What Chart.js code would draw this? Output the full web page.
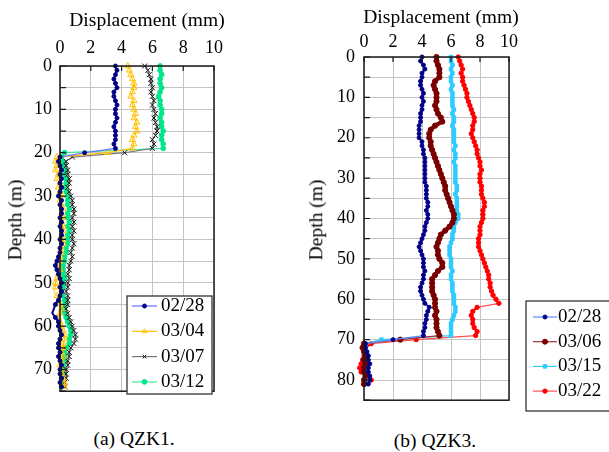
<!DOCTYPE html>
<html>
<head>
<meta charset="utf-8">
<script src="https://cdn.jsdelivr.net/npm/chart.js@4.4.1/dist/chart.umd.min.js"></script>
<style>
  body { margin: 0; background: #fff; width: 609px; height: 452px; overflow: hidden; position: relative;
         font-family: "Liberation Serif", "DejaVu Serif", serif; color: #000; }
  .box { position: absolute; }
  .txt { position: absolute; white-space: nowrap; line-height: 1; transform: translate(-50%, -50%); }
  .rot { transform: translate(-50%, -50%) rotate(-90deg); }
</style>
</head>
<body>
<div class="box" style="left:0;top:0;width:230px;height:410px"><canvas id="qzk1"></canvas></div>
<div class="box" style="left:300px;top:0;width:309px;height:420px"><canvas id="qzk3"></canvas></div>

<div class="txt" style="left:147px;top:20px;font-size:19.5px">Displacement (mm)</div>
<div class="txt rot" style="left:15px;top:220px;font-size:19.5px">Depth (m)</div>
<div class="txt" style="left:134px;top:439px;font-size:19.5px">(a) QZK1.</div>

<div class="txt" style="left:441px;top:17px;font-size:19.5px">Displacement (mm)</div>
<div class="txt rot" style="left:316px;top:220px;font-size:19.5px">Depth (m)</div>
<div class="txt" style="left:435px;top:441px;font-size:19.5px">(b) QZK3.</div>

<script>
// QZK1 - depth (m) and displacement (mm) per survey date
const depthA = [0,1,2,3,4,5,6,7,8,9,10,11,12,13,14,15,16,17,18,19,20,21,22,23,24,25,26,27,28,29,
  30,31,32,33,34,35,36,37,38,39,40,41,42,43,44,45,46,47,48,49,50,51,52,53,54,55,56,57,58,59,
  60,61,62,63,64,65,66,67,68,69,70,71,72,73,74];

const a0228 = [3.6,3.7,3.6,3.5,3.6,3.7,3.5,3.5,3.6,3.7, 3.6,3.6,3.7,3.6,3.5,3.6,3.6,3.6,3.5,3.6,
  1.6, 0.0,-0.1,0.0,0.1,0.0,0.1,0.0,0.1,0.0,
  -0.1,0.1,0.0,0.1,0.1,0.0,0.1,0.0,0.1,0.1, 0.0,0.1,0.0,0.0,-0.1,-0.2,-0.3,-0.2,-0.1,0.0,
  0.1,0.0,0.1,0.0,-0.1,-0.3,-0.4,-0.5,-0.3,-0.1, -0.1,0.0,0.1,0.0,-0.1,-0.1,0.0,-0.1,0.0,0.1,
  0.0,0.0,0.1,0.0,0.1];
const a0304 = [4.4,4.5,4.6,4.7,4.8,4.8,4.7,4.6,4.8,4.7, 4.8,4.9,4.8,5.0,4.9,5.0,4.8,4.7,4.8,4.7,
  3.1, -0.2,-0.3,-0.2,-0.3,-0.1,-0.2,0.0,-0.1,0.0,
  0.1,0.0,0.1,0.2,0.1,0.2,0.1,0.2,0.2,0.1, 0.2,0.2,0.1,0.1,0.0,0.0,-0.1,0.0,-0.1,-0.2,
  -0.3,-0.3,-0.4,-0.2,-0.1,0.0,0.1,0.0,-0.1,0.0, 0.1,0.2,0.3,0.3,0.2,0.2,0.1,0.2,0.1,0.0,
  0.1,0.1,0.2,0.3,0.3];
const a0307 = [5.5,5.7,5.8,5.9,5.9,6.0,5.9,6.0,6.1,6.0, 6.1,6.2,6.1,6.2,6.3,6.3,6.2,6.0,6.1,6.0,
  4.2, 0.8,0.4,0.4,0.5,0.5,0.6,0.6,0.5,0.6,
  0.7,0.8,0.8,0.9,0.9,0.8,0.9,0.8,0.9,0.8, 0.8,0.9,0.8,0.7,0.8,0.7,0.6,0.6,0.5,0.6,
  0.5,0.5,0.4,0.5,0.5,0.5,0.4,0.5,0.6,0.7, 0.8,0.9,1.0,1.0,0.9,0.7,0.6,0.6,0.5,0.5,
  0.4,0.4,0.4,0.3,0.3];
const a0312 = [6.5,6.5,6.6,6.5,6.5,6.6,6.5,6.4,6.5,6.5, 6.6,6.6,6.5,6.6,6.6,6.7,6.6,6.6,6.7,6.7,
  0.3, 0.1,0.2,0.2,0.3,0.3,0.4,0.4,0.3,0.4,
  0.5,0.5,0.5,0.6,0.5,0.5,0.6,0.5,0.6,0.5, 0.5,0.5,0.4,0.4,0.3,0.3,0.2,0.2,0.2,0.3,
  0.2,0.2,0.1,0.2,0.3,0.3,0.2,0.3,0.4,0.5, 0.6,0.7,0.7,0.6,0.6,0.4,0.3,0.3,0.3,0.2,
  0.2,0.2,0.1,0.1,0.1];

// QZK3
const depthB = [0,1,2,3,4,5,6,7,8,9,10,11,12,13,14,15,16,17,18,19,20,21,22,23,24,25,26,27,28,29,
  30,31,32,33,34,35,36,37,38,39,40,41,42,43,44,45,46,47,48,49,50,51,52,53,54,55,56,57,58,59,
  60,61,62,63,64,65,66,67,68,69,70,71,72,73,74,75,76,77,78,79,80,81];

const b0228 = [4.0,3.9,4.1,4.2,4.0,4.0,3.9,3.9,4.0,4.1, 4.0,4.1,4.0,4.0,3.9,3.9,3.9,3.8,3.8,3.8,
  3.8,4.0,4.0,4.1,4.1,4.2,4.2,4.2,4.2,4.2, 4.2,4.2,4.3,4.3,4.3,4.3,4.4,4.4,4.3,4.4,
  4.4,4.3,4.2,4.2,4.1,4.0,3.9,3.8,3.9,4.0, 4.1,4.1,4.1,4.2,4.1,4.1,4.0,3.9,3.9,4.0,
  4.1,4.2,4.5,4.4,4.3,4.3,4.2,4.2,4.1,4.1,
  2.0, 0.1,0.1,0.2,0.3,0.3,0.4,0.3,0.3,0.4,0.4,0.3];
const b0306 = [5.0,5.0,5.1,5.2,5.2,5.2,4.9,4.8,4.9,5.0, 5.0,5.0,4.9,5.0,5.1,5.3,5.4,4.9,4.6,4.5,
  4.5,4.6,4.6,4.7,4.8,4.9,5.0,5.1,5.2,5.3, 5.4,5.5,5.6,5.6,5.7,5.8,5.9,6.0,6.1,6.2,
  6.2,6.1,5.9,5.6,5.3,5.2,5.1,5.0,5.1,5.1, 5.2,5.4,5.4,5.1,4.9,4.7,4.7,4.7,4.7,4.8,
  4.9,4.9,4.9,5.0,4.9,5.0,5.0,5.0,5.1,5.2,
  2.5, 0.0,-0.1,0.0,0.1,0.0,0.1,0.0,0.0,0.1,0.0,0.0];
const b0315 = [6.0,6.0,6.1,6.0,6.1,6.0,6.0,6.1,6.0,6.1, 6.1,6.1,6.1,6.2,6.1,6.2,6.2,6.1,6.2,6.2,
  6.2,6.2,6.3,6.2,6.3,6.3,6.2,6.3,6.3,6.3, 6.3,6.3,6.4,6.4,6.3,6.4,6.4,6.4,6.4,6.5,
  6.5,6.3,6.2,6.2,6.1,6.1,6.0,5.9,5.9,5.9, 6.0,6.0,6.0,6.1,6.0,6.0,6.1,6.1,6.1,6.2,
  6.2,6.2,6.3,6.3,6.2,6.1,6.0,6.0,6.0,6.0,
  1.2, 0.1,0.1,0.2,0.2,0.1,0.2,0.1,0.2,0.1,0.2,0.1];
const b0322 = [6.5,6.6,6.7,6.8,6.7,6.8,6.8,6.9,7.0,7.1, 7.1,7.2,7.3,7.4,7.5,7.6,7.6,7.5,7.5,7.4,
  7.5,7.6,7.7,7.8,7.8,7.9,8.0,8.0,8.1,8.0, 8.0,8.0,8.1,8.1,8.1,8.2,8.3,8.3,8.2,8.2,
  8.2,8.1,8.0,8.0,8.0,7.9,7.9,7.9,8.0,8.1, 8.2,8.3,8.4,8.5,8.6,8.6,8.7,8.7,8.8,8.9,
  9.1,9.3,7.8,7.5,7.4,7.5,7.5,7.6,7.8,7.7,
  3.6, 0.5,0.1,0.1,0.0,-0.1,-0.2,-0.3,-0.2,0.3,0.5,0.0];

const serif = '"Liberation Serif", "Times New Roman", serif';
Chart.defaults.font.family = serif;
Chart.defaults.color = '#000';

// long jumps (the slip surface) are drawn as the thin light connecting line
function series(label, depth, values, st) {
  const thin = c => Math.abs(c.p0.parsed.x - c.p1.parsed.x) > 1;
  return Object.assign({
    label,
    data: values.map((v, i) => ({ x: v, y: depth[i] })),
    borderWidth: 1,
    pointBorderWidth: 1,
    tension: 0,
    clip: false,
    segment: {
      borderColor: c => (thin(c) ? st.legendColor || st.borderColor : undefined),
      borderWidth: c => (thin(c) ? 1.2 : undefined)
    }
  }, st);
}

// frame, inward tick marks and the boxed legend
const framePlugin = {
  id: 'frame',
  afterDraw(chart, args, opts) {
    const { ctx, chartArea: a } = chart;
    const xs = chart.scales.x, ys = chart.scales.y;
    ctx.save();
    ctx.strokeStyle = '#1a1a1a';
    ctx.lineWidth = 1.5;
    ctx.strokeRect(a.left, a.top, a.right - a.left, a.bottom - a.top);
    ctx.lineWidth = 1.2;
    ctx.beginPath();
    ys.ticks.forEach(t => {
      const py = ys.getPixelForValue(t.value);
      ctx.moveTo(a.left, py); ctx.lineTo(a.left + 6, py);
    });
    xs.ticks.forEach(t => {
      const px = xs.getPixelForValue(t.value);
      ctx.moveTo(px, a.top); ctx.lineTo(px, a.top + 5);
    });
    ctx.stroke();

    const lg = opts.legend;
    ctx.fillStyle = '#fff';
    ctx.fillRect(lg.left, lg.top, lg.width, lg.height);
    ctx.strokeStyle = '#333';
    ctx.lineWidth = 1.3;
    ctx.strokeRect(lg.left, lg.top, lg.width, lg.height);
    chart.data.datasets.forEach((ds, i) => {
      const y = lg.top + lg.first + i * lg.step;
      ctx.strokeStyle = ds.legendColor || ds.borderColor;
      ctx.lineWidth = 1.2;
      ctx.beginPath(); ctx.moveTo(lg.lineFrom, y); ctx.lineTo(lg.lineTo, y); ctx.stroke();
      ctx.fillStyle = ds.pointBackgroundColor || ds.pointBorderColor;
      ctx.strokeStyle = ds.pointBorderColor;
      ctx.lineWidth = ds.pointBorderWidth;
      Chart.helpers.drawPoint(ctx, { pointStyle: ds.pointStyle, radius: Math.min(ds.pointRadius, 2.5),
        rotation: 0, borderWidth: ds.pointBorderWidth }, (lg.lineFrom + lg.lineTo) / 2, y);
      ctx.fillStyle = '#000';
      ctx.font = '19px ' + serif;
      ctx.textBaseline = 'middle';
      ctx.textAlign = 'left';
      ctx.fillText(ds.label, lg.textX, y);
    });
    ctx.restore();
  }
};

function makeChart(id, datasets, cfg) {
  return new Chart(document.getElementById(id), {
    type: 'line',
    data: { datasets },
    plugins: [framePlugin],
    options: {
      responsive: true,
      maintainAspectRatio: false,
      animation: false,
      layout: { padding: { left: 0, top: 0, right: cfg.padRight, bottom: cfg.padBottom } },
      plugins: { legend: { display: false }, tooltip: { enabled: false }, frame: { legend: cfg.legend } },
      scales: {
        x: {
          type: 'linear', position: 'top', min: 0, max: 10,
          ticks: { stepSize: 2, autoSkip: false, maxRotation: 0, font: { size: 18 }, padding: cfg.xPad },
          grid: { color: '#c4c4c4', drawTicks: false },
          border: { display: false },
          afterFit: s => { s.height = cfg.xHeight; }
        },
        y: {
          type: 'linear', reverse: true, min: 0, max: cfg.yMax,
          ticks: { stepSize: 5, autoSkip: false, font: { size: 18 }, padding: cfg.yPad,
                   callback: v => (v % 10 === 0 ? String(v) : '') },
          grid: { color: '#c4c4c4', drawTicks: false },
          border: { display: false },
          afterFit: s => { s.width = cfg.yWidth; }
        }
      }
    }
  });
}

makeChart('qzk1', [
  series('02/28', depthA, a0228, { borderColor: '#000088', borderWidth: 2, legendColor: '#6a6aff',
    pointStyle: 'circle', pointRadius: 2, pointBackgroundColor: '#000088', pointBorderColor: '#000088' }),
  series('03/04', depthA, a0304, { borderColor: '#ffc000', pointStyle: 'triangle', pointRadius: 3.5,
    pointBackgroundColor: 'rgba(255,255,255,0)', pointBorderColor: '#ffc000' }),
  series('03/07', depthA, a0307, { borderColor: '#555555', legendColor: '#777777', pointStyle: 'crossRot',
    pointRadius: 3.5, pointBackgroundColor: '#111111', pointBorderColor: '#111111' }),
  series('03/12', depthA, a0312, { borderColor: '#00e68a', borderWidth: 2.5, legendColor: '#40e8a0',
    pointStyle: 'circle', pointRadius: 2.4, pointBackgroundColor: '#00e68a', pointBorderColor: '#00e68a' })
], {
  padRight: 11, padBottom: 10, xHeight: 66, yWidth: 60, yMax: 75, xPad: 7, yPad: 8,
  legend: { left: 127, top: 296, width: 85, height: 98, first: 10, step: 25.3,
            lineFrom: 132, lineTo: 157, textX: 161 }
});

makeChart('qzk3', [
  series('02/28', depthB, b0228, { borderColor: '#000088', borderWidth: 1.8, legendColor: '#5b8cff',
    pointStyle: 'circle', pointRadius: 2, pointBackgroundColor: '#000088', pointBorderColor: '#000088' }),
  series('03/06', depthB, b0306, { borderColor: '#7a0000', borderWidth: 4, legendColor: '#a03030',
    pointStyle: 'circle', pointRadius: 2.6, pointBackgroundColor: '#7a0000', pointBorderColor: '#7a0000' }),
  series('03/15', depthB, b0315, { borderColor: '#2ecbff', borderWidth: 3, legendColor: '#33ccff',
    pointStyle: 'rect', pointRadius: 2.5, pointBackgroundColor: '#2ecbff', pointBorderColor: '#2ecbff' }),
  series('03/22', depthB, b0322, { borderColor: '#ff0000', borderWidth: 2, legendColor: '#ff5050',
    pointStyle: 'circle', pointRadius: 2.2, pointBackgroundColor: '#ff0000', pointBorderColor: '#ff0000' })
], {
  padRight: 100, padBottom: 10, xHeight: 57, yWidth: 64, yMax: 85, xPad: 4, yPad: 9,
  legend: { left: 226, top: 301, width: 100, height: 110, first: 16, step: 24.7,
            lineFrom: 233, lineTo: 257, textX: 258 }
});
</script>
</body>
</html>
